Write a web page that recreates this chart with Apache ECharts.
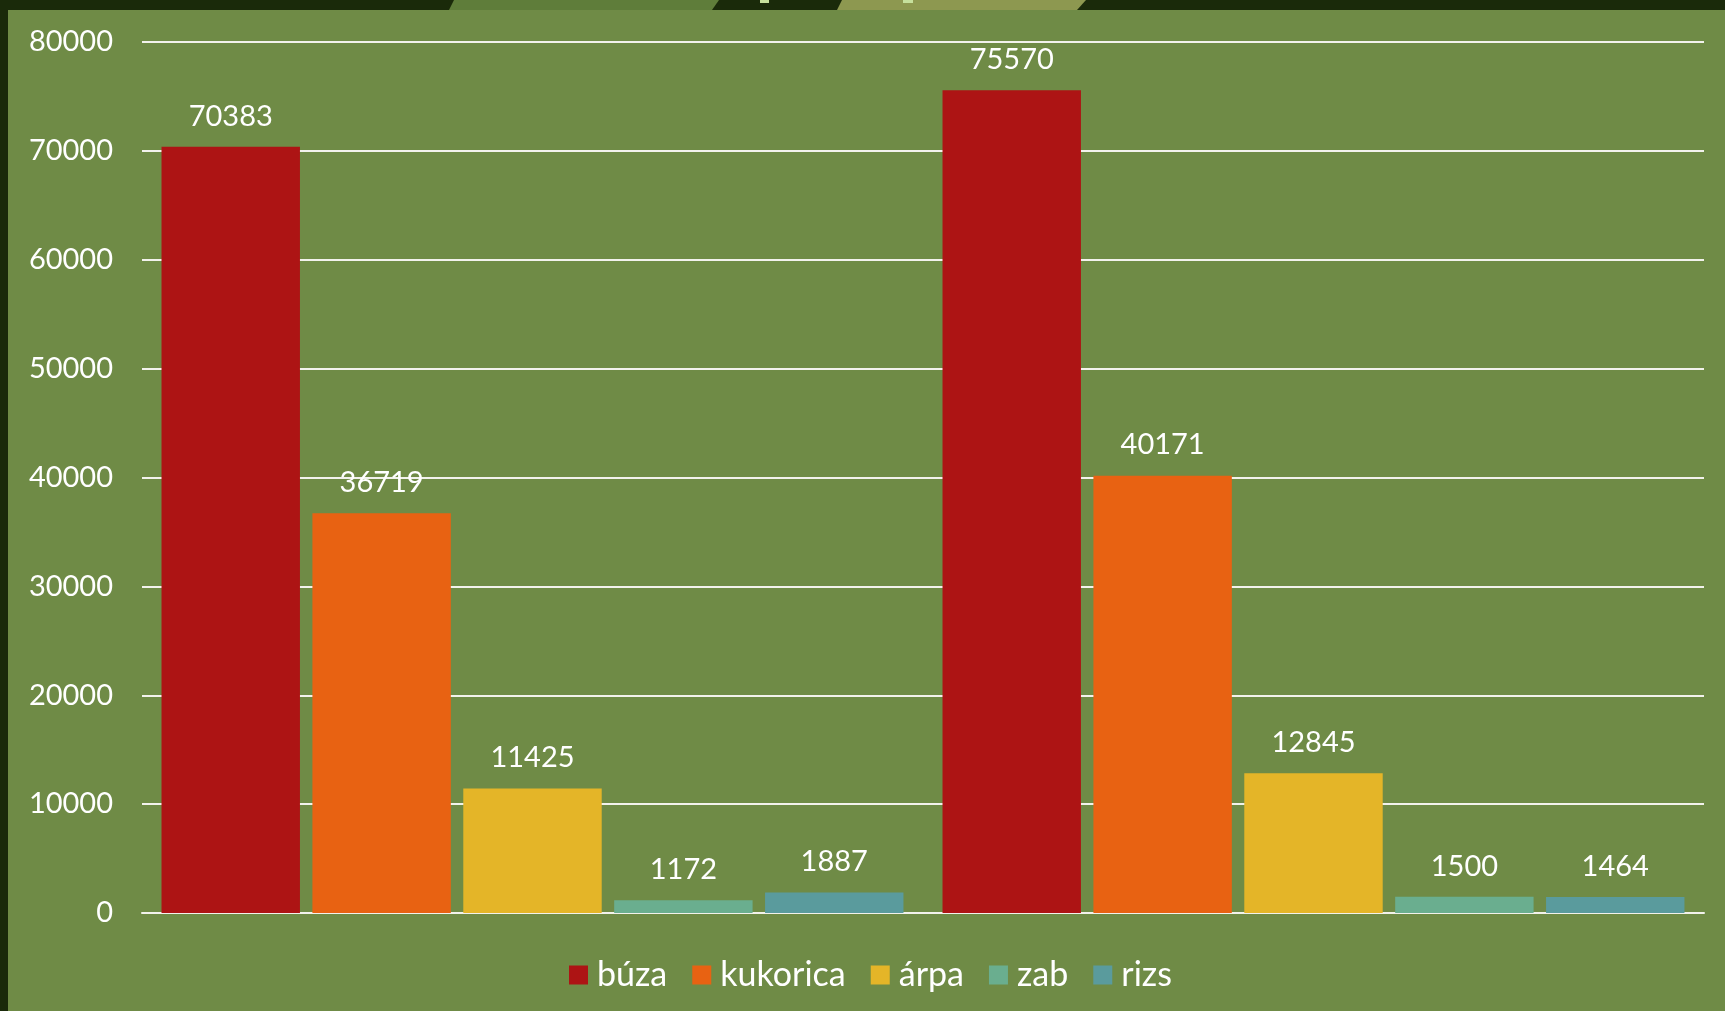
<!DOCTYPE html>
<html>
<head>
<meta charset="utf-8">
<script src="https://cdn.jsdelivr.net/npm/echarts@6/dist/echarts.min.js"></script>
<style>
html,body{margin:0;padding:0;width:1725px;height:1011px;overflow:hidden;background:#1a2a0a;}
#chart{width:1725px;height:1011px;}
</style>
</head>
<body>
<div id="chart"></div>
<script>
const categories = ['I', 'II'];
const seriesNames = ['búza', 'kukorica', 'árpa', 'zab', 'rizs'];
const buza = [70383, 75570];
const kukorica = [36719, 40171];
const arpa = [11425, 12845];
const zab = [1172, 1500];
const rizs = [1887, 1464];
const colors = ['#ad1414', '#e86212', '#e4b528', '#6aae8f', '#5a9b9d'];

const values = [buza, kukorica, arpa, zab, rizs];
const font = 'Lato, "Open Sans", sans-serif';

const chart = echarts.init(document.getElementById('chart'), null, {renderer: 'canvas'});
chart.setOption({
  backgroundColor: '#1a2a0a',
  animation: false,
  color: colors,
  graphic: [
    {type: 'rect', shape: {x: 8, y: 10, width: 1717, height: 1001}, style: {fill: '#6f8b46'}, z: -10},
    {type: 'polygon', shape: {points: [[449, 10], [454, 0], [719, 0], [712, 10]]}, style: {fill: '#5f7d3a'}, z: -10},
    {type: 'polygon', shape: {points: [[837, 10], [842, 0], [1086, 0], [1077, 10]]}, style: {fill: '#8d9850'}, z: -10},
    {type: 'rect', shape: {x: 760, y: 0, width: 9, height: 3}, style: {fill: '#c6e09c'}, z: -9},
    {type: 'rect', shape: {x: 903, y: 0, width: 10, height: 3}, style: {fill: '#c6e09c'}, z: -9}
  ],
  grid: {left: 142, right: 21, top: 42, bottom: 98, containLabel: false},
  legend: {
    data: seriesNames,
    left: 569,
    top: 957,
    padding: 0,
    itemWidth: 19,
    itemHeight: 19,
    itemGap: 25,
    icon: 'rect',
    textStyle: {color: '#ffffff', fontSize: 34, lineHeight: 36, fontFamily: font, padding: [0, 0, 0, 4]}
  },
  xAxis: {
    type: 'category',
    data: categories,
    axisLine: {show: true, lineStyle: {color: '#f2f2ec', width: 2}},
    axisTick: {show: false},
    axisLabel: {show: false},
    splitLine: {show: false}
  },
  yAxis: {
    type: 'value',
    min: 0,
    max: 80000,
    interval: 10000,
    axisLine: {show: false},
    axisTick: {show: false},
    axisLabel: {color: '#ffffff', fontSize: 29, fontFamily: font, margin: 29, formatter: v => String(v)},
    splitLine: {show: true, lineStyle: {color: '#f2f2ec', width: 2}}
  },
  series: seriesNames.map((name, i) => ({
    name: name,
    type: 'bar',
    data: values[i],
    barGap: '9%',
    barCategoryGap: '5%',
    itemStyle: {color: colors[i]},
    label: {show: true, position: 'top', distance: 16, color: '#ffffff', fontSize: 29, fontFamily: font}
  }))
});
</script>
</body>
</html>
